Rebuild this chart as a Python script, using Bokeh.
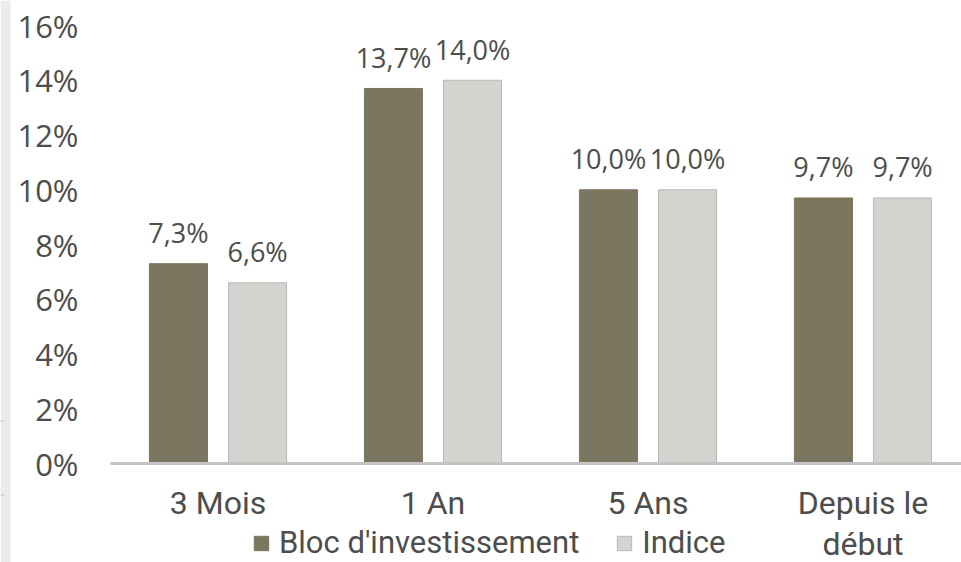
from bokeh.plotting import figure
from bokeh.models import (Range1d, FixedTicker, Legend, LegendItem, ColumnDataSource,
                          BoxAnnotation)
from bokeh.core.properties import value
from bokeh.embed import file_html
from bokeh.resources import INLINE

categories = ["3 Mois", "1 An", "5 Ans", "Depuis le\ndébut"]
bloc = [7.3, 13.7, 10.0, 9.7]
indice = [6.6, 14.0, 10.0, 9.7]
series_names = ["Bloc d'investissement", "Indice"]
y_ticks = [0, 2, 4, 6, 8, 10, 12, 14, 16]

DARK = "#7b7660"
LIGHT = "#d4d3cf"
TEXT = "#4d4d4d"

W, H = 961, 562
PX_X = 215.0      # pixels per category
PX_Y = 27.375     # pixels per percent
X0, Y0 = 110, 463 # canvas position of the axes origin

centers = [i + 0.5 for i in range(len(categories))]
off = 0.184
bw = 0.27

p = figure(width=W, height=H, output_backend="svg", toolbar_location=None,
           x_range=Range1d(-X0 / PX_X, (W - X0) / PX_X),
           y_range=Range1d(-(H - Y0) / PX_Y, Y0 / PX_Y),
           min_border=0)
p.outline_line_color = None
p.xgrid.visible = False
p.ygrid.visible = False
p.background_fill_color = "white"
p.border_fill_color = "white"

# light strip at the left edge of the slide
p.add_layout(BoxAnnotation(left=0, right=10, top=0, bottom=H,
                           left_units="canvas", right_units="canvas",
                           top_units="canvas", bottom_units="canvas",
                           fill_color="#ebebeb", fill_alpha=1, line_color=None))
for yy in (420, 494):
    p.add_layout(BoxAnnotation(left=0, right=4, top=yy, bottom=yy + 1,
                               left_units="canvas", right_units="canvas",
                               top_units="canvas", bottom_units="canvas",
                               fill_color="#bdbdbd", fill_alpha=1, line_color=None))

src_b = ColumnDataSource(dict(x=[c - off for c in centers], top=bloc,
                              lab=[f"{v:.1f}%".replace(".", ",") for v in bloc]))
src_i = ColumnDataSource(dict(x=[c + off for c in centers], top=indice,
                              lab=[f"{v:.1f}%".replace(".", ",") for v in indice]))

rb = p.vbar(x="x", top="top", bottom=0, width=bw, source=src_b, fill_color=DARK, line_color=DARK)
ri = p.vbar(x="x", top="top", bottom=0, width=bw, source=src_i, fill_color=LIGHT, line_color="#b8b8b8")

for src in (src_b, src_i):
    p.text(x="x", y="top", text="lab", source=src, text_align="center",
           text_baseline="alphabetic", y_offset=-31, text_color=TEXT,
           text_font=value("Open Sans"), text_font_size="27px")

# y axis
p.yaxis.fixed_location = 0
p.yaxis.ticker = FixedTicker(ticks=y_ticks)
p.yaxis.major_label_overrides = {t: f"{t}%" for t in y_ticks}
p.yaxis.axis_line_color = None
p.yaxis.major_tick_line_color = None
p.yaxis.minor_tick_line_color = None
p.yaxis.major_label_standoff = 26
p.yaxis.major_label_text_font = "Open Sans"
p.yaxis.major_label_text_font_size = "31px"
p.yaxis.major_label_text_color = TEXT

# x axis
p.xaxis.fixed_location = 0
p.xaxis.bounds = (0, (W - X0) / PX_X)
p.xaxis.ticker = FixedTicker(ticks=centers)
p.xaxis.major_label_overrides = {c: cat for c, cat in zip(centers, categories)}
p.xaxis.axis_line_color = "#c4c4c4"
p.xaxis.axis_line_width = 3
p.xaxis.major_tick_line_color = None
p.xaxis.minor_tick_line_color = None
p.xaxis.major_label_standoff = 14
p.xaxis.major_label_text_font = "Roboto"
p.xaxis.major_label_text_font_size = "32px"
p.xaxis.major_label_text_color = TEXT
p.xaxis.major_label_text_line_height = 1.1

legend = Legend(items=[LegendItem(label=series_names[0], renderers=[rb]),
                       LegendItem(label=series_names[1], renderers=[ri])],
                location=(252, 1), orientation="horizontal",
                border_line_color=None, background_fill_alpha=0,
                glyph_width=18, glyph_height=18, label_standoff=9, spacing=36,
                padding=0, margin=0,
                label_text_font="Roboto",
                label_text_font_size="31px", label_text_color=TEXT)
p.add_layout(legend, "center")

open("out.html", "w").write(file_html(p, INLINE))
